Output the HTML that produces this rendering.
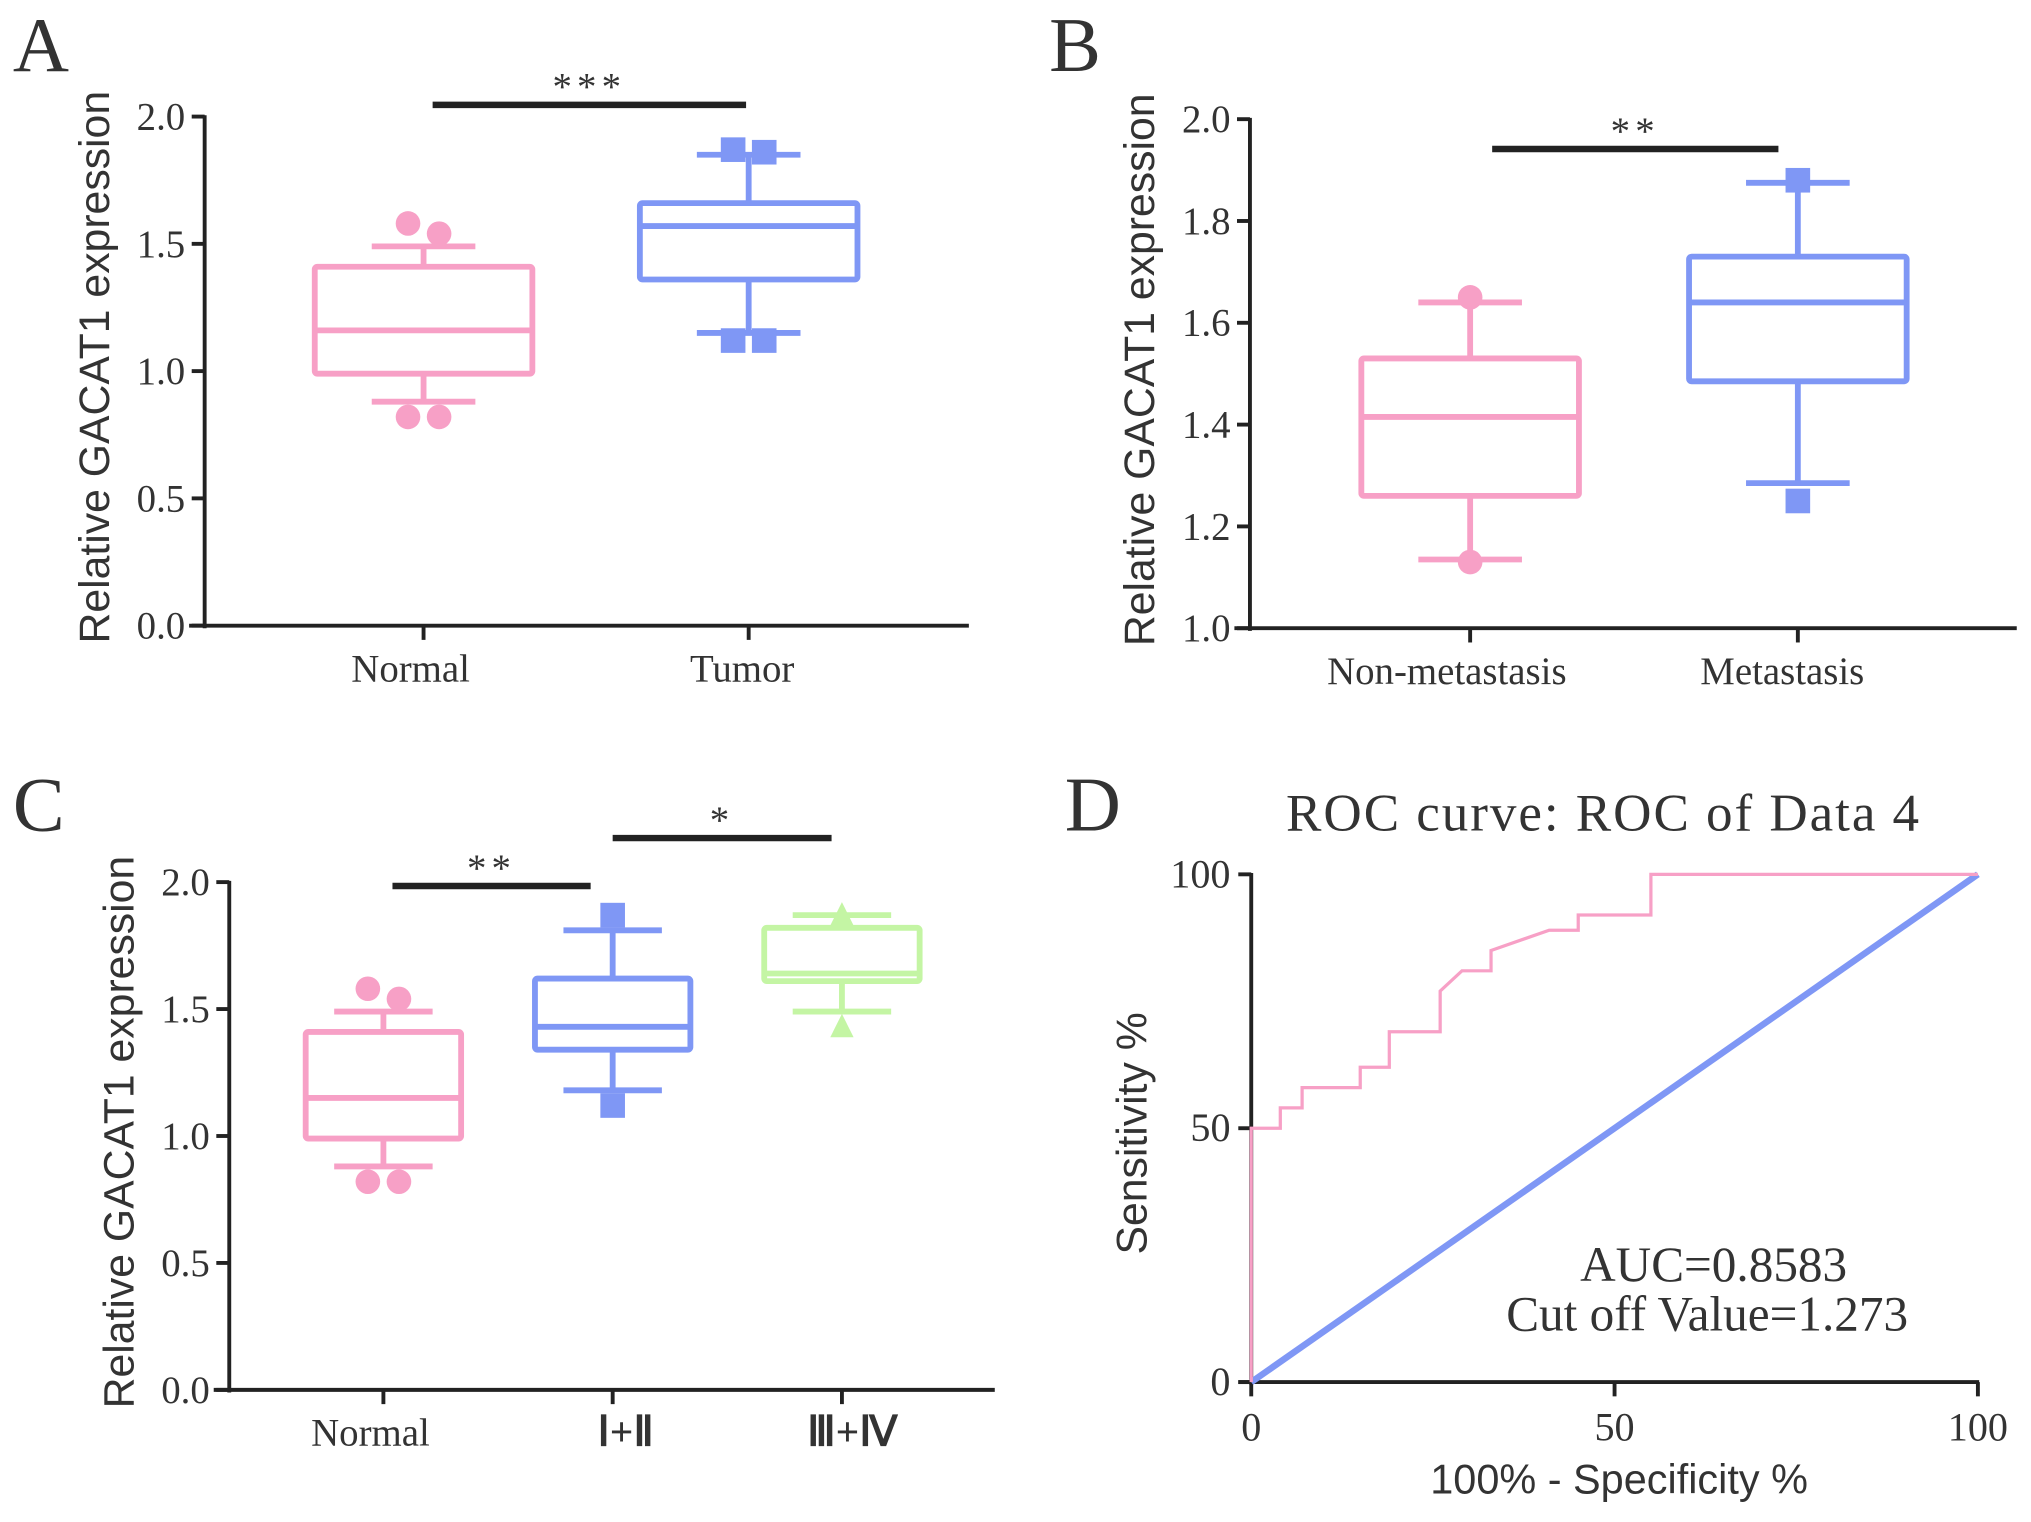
<!DOCTYPE html>
<html><head><meta charset="utf-8"><style>
html,body{margin:0;padding:0;background:#fff;}
svg{display:block;}
.serif{font-family:"Liberation Serif",serif;fill:#333;}
.sans{font-family:"Liberation Sans",sans-serif;fill:#333;}
</style></head><body>
<svg id="fig" width="2031" height="1522" viewBox="0 0 1568 1175" preserveAspectRatio="none" xmlns="http://www.w3.org/2000/svg"></svg>
<script>
// ---- Panel A data ----
const aCategories = ["Normal", "Tumor"];
const aQ1 = [0.99, 1.36];
const aMedian = [1.16, 1.57];
const aQ3 = [1.41, 1.66];
const aWhiskLo = [0.88, 1.15];
const aWhiskHi = [1.49, 1.85];
const aOutHi = [[1.58, 1.54], [1.87, 1.86]];
const aOutLo = [[0.82, 0.82], [1.12, 1.12]];
const aTicks = [0.0, 0.5, 1.0, 1.5, 2.0];
// ---- Panel B data ----
const bCategories = ["Non-metastasis", "Metastasis"];
const bQ1 = [1.26, 1.485];
const bMedian = [1.415, 1.64];
const bQ3 = [1.53, 1.73];
const bWhiskLo = [1.135, 1.285];
const bWhiskHi = [1.64, 1.875];
const bOutHi = [[1.65], [1.88]];
const bOutLo = [[1.13], [1.25]];
const bTicks = [1.0, 1.2, 1.4, 1.6, 1.8, 2.0];
// ---- Panel C data ----
const cCategories = ["Normal", "Ⅰ+Ⅱ", "Ⅲ+Ⅳ"];
const cQ1 = [0.99, 1.34, 1.61];
const cMedian = [1.15, 1.43, 1.64];
const cQ3 = [1.41, 1.62, 1.82];
const cWhiskLo = [0.88, 1.18, 1.49];
const cWhiskHi = [1.49, 1.81, 1.87];
const cOutHi = [[1.58, 1.54], [1.87], [1.87]];
const cOutLo = [[0.82, 0.82], [1.12], [1.43]];
const cTicks = [0.0, 0.5, 1.0, 1.5, 2.0];
// ---- Panel D data ----
const rocFpr = [0, 0, 4, 4, 7, 7, 15, 15, 19, 19, 26, 26, 29, 33, 33, 41, 45, 45, 55, 55, 100];
const rocTpr = [0, 50, 50, 54, 54, 58, 58, 62, 62, 69, 69, 77, 81, 81, 85, 89, 89, 92, 92, 100, 100];
const dTicks = [0, 50, 100];

const NS = "http://www.w3.org/2000/svg";
const svg = document.getElementById("fig");
function mk(tag, attrs, parent) {
  const e = document.createElementNS(NS, tag);
  for (const k in attrs) e.setAttribute(k, attrs[k]);
  (parent || svg).appendChild(e);
  return e;
}
function txt(s, attrs, parent) { const e = mk("text", attrs, parent); e.textContent = s; return e; }

const PINK = "#f7a0c6", BLUE = "#7f97f5", GREEN = "#c4f5a4", DARK = "#222";
const colors = [PINK, BLUE, GREEN];
const markers = ["circle", "square", "triangle"];

function marker(g, type, x, y, col) {
  let m;
  if (type === "circle") m = mk("circle", {cx: x, cy: y, r: 9.5, fill: col}, g);
  else if (type === "square") m = mk("rect", {x: x - 9.5, y: y - 9.5, width: 19, height: 19, fill: col}, g);
  else m = mk("polygon", {points: `${x},${y - 10} ${x + 9},${y + 8} ${x - 9},${y + 8}`, fill: col}, g);
  
  
}

function boxPanel(cfg) {
  const g = mk("g", {});
  
  
  const y = v => cfg.y0 - (v - cfg.vmin) / (cfg.vmax - cfg.vmin) * (cfg.y0 - cfg.y1);
  const ya = mk("line", {x1: cfg.ax, y1: cfg.y1 - 1, x2: cfg.ax, y2: cfg.y0 + 2, stroke: DARK, "stroke-width": 3}, g);
   
  const xa = mk("line", {x1: cfg.ax - 12, y1: cfg.y0, x2: cfg.xend, y2: cfg.y0, stroke: DARK, "stroke-width": 3}, g);
   
  cfg.ticks.forEach(t => {
    mk("line", {x1: cfg.ax - 10, y1: y(t), x2: cfg.ax, y2: y(t), stroke: DARK, "stroke-width": 3}, g);
    const tl = txt(t.toFixed(1), {x: cfg.ax - 15, y: y(t) + 10, "text-anchor": "end", "font-size": 30, class: "serif"}, g);
     
  });
  const yt = txt("Relative GACAT1 expression", {x: 0, y: 0, "text-anchor": "middle", "font-size": 33, class: "sans", transform: `translate(${cfg.ax - 74},${(cfg.y0 + cfg.y1) / 2 - 3}) rotate(-90)`}, g);
   
  cfg.cats.forEach((c, i) => {
    const cx = cfg.xs[i], col = colors[i], hw = cfg.hw, cw = cfg.cw;
    mk("line", {x1: cx, y1: cfg.y0, x2: cx, y2: cfg.y0 + 11, stroke: DARK, "stroke-width": 3}, g);
    const roman = c.length < 5;
    const xl = txt(c, {x: cx + cfg.labOff[i], y: cfg.y0 + 43, "text-anchor": "middle", "font-size": roman ? 32 : 30, class: "serif", "font-weight": roman ? "bold" : "normal"}, g);
     
    const bg = mk("g", {stroke: col, "stroke-width": 4.5, fill: "none"}, g);
     
    mk("rect", {x: cx - hw, y: y(cfg.q3[i]), width: 2 * hw, height: y(cfg.q1[i]) - y(cfg.q3[i]), rx: 2}, bg);
    mk("line", {x1: cx - hw, y1: y(cfg.med[i]), x2: cx + hw, y2: y(cfg.med[i])}, bg);
    mk("line", {x1: cx, y1: y(cfg.q3[i]), x2: cx, y2: y(cfg.wh[i])}, bg);
    mk("line", {x1: cx, y1: y(cfg.q1[i]), x2: cx, y2: y(cfg.wl[i])}, bg);
    mk("line", {x1: cx - cw, y1: y(cfg.wh[i]), x2: cx + cw, y2: y(cfg.wh[i])}, bg);
    mk("line", {x1: cx - cw, y1: y(cfg.wl[i]), x2: cx + cw, y2: y(cfg.wl[i])}, bg);
    [cfg.oh[i], cfg.ol[i]].forEach(arr => {
      arr.forEach((v, k) => {
        const off = arr.length === 2 ? (k === 0 ? -12 : 12) : 0;
        marker(g, markers[i], cx + off, y(v), col);
      });
    });
  });
  cfg.sig.forEach(s => {
    const sl = mk("line", {x1: s.x1, y1: s.y, x2: s.x2, y2: s.y, stroke: DARK, "stroke-width": 5}, g);
     
    const st = txt(s.t, {x: (s.x1 + s.x2) / 2, y: s.y - 4, "text-anchor": "middle", "font-size": 30, class: "serif", "letter-spacing": 4}, g);
     
  });
}

boxPanel({name: "panel-a", ax: 158, y0: 483, y1: 90, vmin: 0, vmax: 2, xend: 748, xs: [327, 578], hw: 84, cw: 40,
  cats: aCategories, q1: aQ1, med: aMedian, q3: aQ3, wl: aWhiskLo, wh: aWhiskHi, oh: aOutHi, ol: aOutLo, ticks: aTicks,
  labOff: [-10, -5], sig: [{x1: 334, x2: 576, y: 81, t: "***"}]});
boxPanel({name: "panel-b", ax: 965, y0: 485, y1: 92, vmin: 1, vmax: 2, xend: 1557, xs: [1135, 1388], hw: 84, cw: 40,
  cats: bCategories, q1: bQ1, med: bMedian, q3: bQ3, wl: bWhiskLo, wh: bWhiskHi, oh: bOutHi, ol: bOutLo, ticks: bTicks,
  labOff: [-18, -12], sig: [{x1: 1152, x2: 1373, y: 115, t: "**"}]});
boxPanel({name: "panel-c", ax: 177, y0: 1073, y1: 681, vmin: 0, vmax: 2, xend: 768, xs: [296, 473, 650], hw: 60, cw: 38,
  cats: cCategories, q1: cQ1, med: cMedian, q3: cQ3, wl: cWhiskLo, wh: cWhiskHi, oh: cOutHi, ol: cOutLo, ticks: cTicks,
  labOff: [-10, 10, 8], sig: [{x1: 303, x2: 456, y: 684, t: "**"}, {x1: 473, x2: 642, y: 647, t: "*"}]});

// ---- Panel D ----
(function () {
  const g = mk("g", {});
  
  
  const X0 = 966, X1 = 1527, Y0 = 1067, Y1 = 675;
  const x = v => X0 + v / 100 * (X1 - X0);
  const y = v => Y0 - v / 100 * (Y0 - Y1);
  const ttl = txt("ROC curve: ROC of Data 4", {x: 1238, y: 641, "text-anchor": "middle", "font-size": 41, class: "serif", "letter-spacing": 1.5}, g);
   
  mk("line", {x1: X0, y1: Y1 - 1, x2: X0, y2: Y0 + 2, stroke: DARK, "stroke-width": 3}, g);
  mk("line", {x1: X0 - 10, y1: Y0, x2: X1 + 1, y2: Y0, stroke: DARK, "stroke-width": 3}, g);
  dTicks.forEach(t => {
    mk("line", {x1: X0 - 10, y1: y(t), x2: X0, y2: y(t), stroke: DARK, "stroke-width": 3}, g);
    const yl = txt(String(t), {x: X0 - 16, y: y(t) + 10, "text-anchor": "end", "font-size": 31, class: "serif"}, g);
     
    mk("line", {x1: x(t), y1: Y0, x2: x(t), y2: Y0 + 11, stroke: DARK, "stroke-width": 3}, g);
    const xl = txt(String(t), {x: x(t), y: Y0 + 45, "text-anchor": "middle", "font-size": 31, class: "serif"}, g);
     
  });
  const diag = mk("line", {x1: x(0), y1: y(0), x2: x(100), y2: y(100), stroke: BLUE, "stroke-width": 5}, g);
   
  const pts = rocFpr.map((f, i) => `${x(f)},${y(rocTpr[i])}`).join(" ");
  const roc = mk("polyline", {points: pts, fill: "none", stroke: PINK, "stroke-width": 2.5}, g);
   
  const a1 = txt("AUC=0.8583", {x: 1323, y: 989, "text-anchor": "middle", "font-size": 38, class: "serif"}, g);
   
  const a2 = txt("Cut off Value=1.273", {x: 1318, y: 1027, "text-anchor": "middle", "font-size": 38, class: "serif"}, g);
   
  const yt = txt("Sensitivity %", {x: 0, y: 0, "text-anchor": "middle", "font-size": 33, class: "sans", transform: `translate(885,${(Y0 + Y1) / 2 + 4}) rotate(-90)`}, g);
   
  const xt = txt("100% - Specificity %", {x: 1250, y: 1153, "text-anchor": "middle", "font-size": 32, class: "sans"}, g);
   
})();

// panel letters
[["A", 10, 55], ["B", 810, 55], ["C", 10, 641], ["D", 822, 641]].forEach(p => {
  const l = txt(p[0], {x: p[1], y: p[2], "font-size": 60, class: "serif", fill: "#111"});
  
  
});
</script>
</body></html>
